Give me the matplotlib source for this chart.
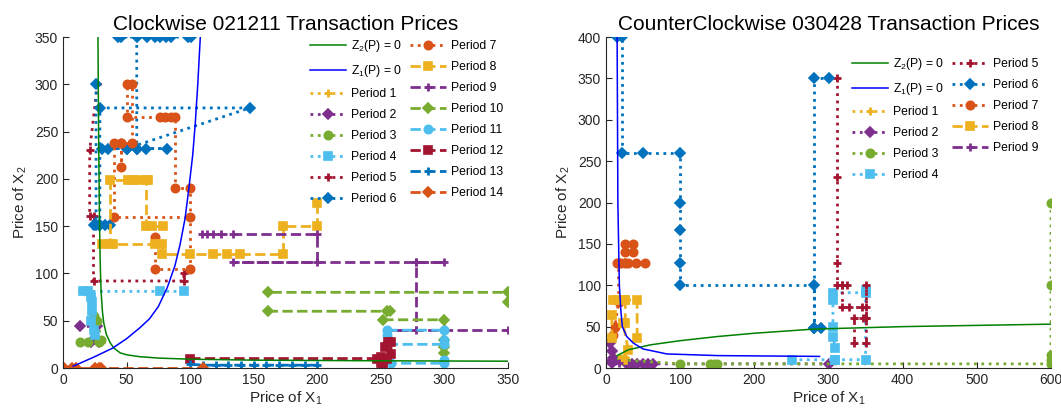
import numpy as np
import matplotlib
matplotlib.use("Agg")
import matplotlib.pyplot as plt

plt.rcParams['font.family'] = ['Liberation Sans', 'DejaVu Sans']
plt.rcParams['mathtext.fontset'] = 'custom'
plt.rcParams['mathtext.rm'] = 'Liberation Sans'
plt.rcParams['mathtext.it'] = 'Liberation Sans:italic'
plt.rcParams['mathtext.default'] = 'regular'

nan = np.nan

# ---------------- Left chart (Clockwise 021211) ----------------
L_z2_x = [27.5, 28, 28.5, 29, 29.5, 30, 31, 32, 34, 37, 40, 45, 50, 60, 75, 100, 150, 250, 350]
L_z2_y = [350, 250, 180, 130, 100, 80, 60, 48, 36, 27, 21, 16, 14, 12, 10.5, 9.3, 8.3, 7.6, 7.2]
L_z1_x = [8, 15, 25, 39, 50, 60, 68, 75, 82, 88, 92, 96, 99, 102, 104, 106, 108]
L_z1_y = [2, 6, 12, 21, 31, 42, 52, 65, 85, 108, 130, 158, 190, 225, 258, 300, 350]

L_p1_x = [24, 28, 30, 28]
L_p1_y = [30, 28, 28, 30]
L_p2_x = [13, 27, 27, 22, 28]
L_p2_y = [44, 44, 30, 28, 27]
L_p3_x = [13, 20, 28, 30, 27, 24]
L_p3_y = [28, 28, 28, 30, 50, 55]
L_p4_x = [95, 76, 16, 20, 22, 23, 23, 22, 24, 25]
L_p4_y = [81, 81, 81, 81, 75, 70, 60, 50, 40, 35]
L_p5_x = [27, 21, 21, 24, 24, 95, 95]
L_p5_y = [300, 230, 161, 161, 92, 92, 100]
L_p6_x = [26, 26, 24, 28, 33, 37, 29, 29, 147, 50, 31, 35, 50, 58, 65, 82, 58, 58, 43, 46, 66, 72, 76, 81, 85, 98, 101]
L_p6_y = [300, 151, 151, 151, 151, 151, 151, 275, 275, 232, 232, 232, 232, 232, 232, 232, 232, 350, 350, 350, 350, 350, 350, 350, 350, 350, 350]
L_p7_x = [72, 72, 100, 100, 88, 88, 85, 80, 76, 50, 50, 54, 54, 46, 46, 46, 40, 40, 100]
L_p7_y = [139, 105, 105, 190, 190, 265, 265, 265, 265, 265, 300, 300, 238, 238, 213, 238, 238, 160, 160]
L_p8_x = [200, 200, 173, 173, 139, 129, 118, 100, 78, 78, 72, 39, 31, 37, 37, 51, 55, 60, 67, 65, 65, 70, 79]
L_p8_y = [175, 150, 150, 121, 121, 121, 121, 121, 121, 131, 131, 131, 131, 131, 199, 199, 199, 199, 199, 199, 150, 150, 150]
L_p9_x = [109, 113, 118, 124, 134, 200, 200, 134, 278, 300, 278, 278, 255, 350]
L_p9_y = [142, 142, 142, 142, 142, 142, 112, 112, 112, 112, 112, 40, 40, 40]
L_p10_x = [350, 350, 161, nan, 161, 255, 257, 252, 300, 300, 300, 300]
L_p10_y = [70, 80, 80, nan, 60, 60, 60, 51, 51, 30, 22, 16]
L_p11_x = [255, 300, 300, 300, 255, 255, 258, 300, 300]
L_p11_y = [40, 40, 30, 25, 25, 35, 5, 5, 8]
L_p12_x = [100, 247, 250, 250, 253, 256, 258, 258, 255, 252]
L_p12_y = [10, 10, 5, 12, 22, 28, 28, 15, 10, 3]
L_p13_x = [100, 110, 120, 130, 140, 150, 160, 170, 180, 190, 200]
L_p13_y = [4, 3, 3, 3, 3, 3, 3, 3, 3, 3, 3]
L_p14_x = [1, 7, 10, 25, 28, 30, 110]
L_p14_y = [0, 0, 0, 0, 0, 0, 0]

# ---------------- Right chart (CounterClockwise 030428) ----------------
R_z2_x = [15, 30, 60, 100, 150, 200, 280, 400, 600]
R_z2_y = [15, 22, 28, 33, 38, 42, 47, 50, 53]
R_z1_x = [15, 16, 18, 20, 22, 28, 37, 50, 82, 150, 288]
R_z1_y = [400, 200, 100, 70, 50, 38, 30, 23, 17, 15, 14]

R_p1_x = [10, 20, 30]
R_p1_y = [15, 12, 10]
R_p2_x = [5, 8, 10, 8, 28, 35, 42, 50, 57, 63, 300]
R_p2_y = [30, 20, 12, 6, 5, 5, 5, 5, 5, 5, 5]
R_p3_x = [20, 100, 140, 145, 150, 600, 600, 600, 600, 600]
R_p3_y = [10, 5, 5, 5, 5, 5, 10, 16, 100, 200]
R_p4_x = [251, 309, 309, 306, 306, 306, 306, 350, 350, 350, 309]
R_p4_y = [10, 10, 24, 38, 50, 82, 91, 91, 94, 10, 10]
R_p5_x = [311, 311, 311, 311, 318, 325, 318, 318, 327, 345, 350, 350, 350, 346, 334, 334, 350, 350]
R_p5_y = [350, 231, 127, 100, 100, 100, 100, 74, 74, 74, 74, 100, 60, 60, 60, 30, 30, 60]
R_p6_x = [15, 22, 22, 50, 100, 100, 100, 100, 100, 280, 280, 290, 280, 280, 300]
R_p6_y = [400, 400, 260, 260, 260, 200, 167, 127, 100, 100, 48, 48, 48, 350, 350]
R_p7_x = [26, 36, 36, 26, 26, 15, 20, 30, 40, 53, 17, 17, 12, 10]
R_p7_y = [150, 150, 140, 140, 127, 127, 127, 127, 127, 127, 127, 80, 50, 40]
R_p8_x = [42, 42, 26, 15, 9, 26, 26, 23, 30, 23, nan, 8, 8]
R_p8_y = [36, 82, 82, 82, 82, 82, 54, 54, 22, 10, nan, 64, 36]
R_p9_x = [5, 12, 18]
R_p9_y = [10, 8, 6]

# ---------------- styles ----------------
C = ['#EDB120', '#7E2F8E', '#77AC30', '#4DBEEE', '#A2142F', '#0072BD', '#D95319']
MK = ['+', 'D', 'o', 's']
MS = {'+': 6, 'D': 5.2, 'o': 6, 's': 5.6}

def style(i):
    col = C[(i - 1) % 7]
    mk = MK[(i - 1) % 4]
    ls = ':' if i <= 7 else '--'
    return dict(color=col, marker=mk, linestyle=ls, linewidth=2, markersize=MS[mk],
                markeredgewidth=2 if mk == '+' else 1.2, markerfacecolor=col)

fig = plt.figure(figsize=(10.61, 4.12), dpi=100)
axL = fig.add_axes([63/1061, 1-368/412, 445/1061, 331/412])
axR = fig.add_axes([606/1061, 1-368/412, 445/1061, 331/412])

left_periods = [(L_p1_x, L_p1_y), (L_p2_x, L_p2_y), (L_p3_x, L_p3_y), (L_p4_x, L_p4_y),
                (L_p5_x, L_p5_y), (L_p6_x, L_p6_y), (L_p7_x, L_p7_y), (L_p8_x, L_p8_y),
                (L_p9_x, L_p9_y), (L_p10_x, L_p10_y), (L_p11_x, L_p11_y), (L_p12_x, L_p12_y),
                (L_p13_x, L_p13_y), (L_p14_x, L_p14_y)]
right_periods = [(R_p1_x, R_p1_y), (R_p2_x, R_p2_y), (R_p3_x, R_p3_y), (R_p4_x, R_p4_y),
                 (R_p5_x, R_p5_y), (R_p6_x, R_p6_y), (R_p7_x, R_p7_y), (R_p8_x, R_p8_y),
                 (R_p9_x, R_p9_y)]

def draw(ax, z2x, z2y, z1x, z1y, periods):
    ax.plot(z2x, z2y, color='#008000', lw=1.1, label='Z$_2$(P) = 0', zorder=3)
    ax.plot(z1x, z1y, color='#0000FF', lw=1.1, label='Z$_1$(P) = 0', zorder=3)
    for i, (x, y) in enumerate(periods, start=1):
        ax.plot(x, y, label=f'Period {i}', zorder=2, **style(i))

draw(axL, L_z2_x, L_z2_y, L_z1_x, L_z1_y, left_periods)
draw(axR, R_z2_x, R_z2_y, R_z1_x, R_z1_y, right_periods)

for ax, xmax, ymax, xstep, title in [
        (axL, 350, 350, 50, 'Clockwise 021211 Transaction Prices'),
        (axR, 600, 400, 100, 'CounterClockwise 030428 Transaction Prices')]:
    ax.set_xlim(0, xmax)
    ax.set_ylim(0, ymax)
    ax.set_xticks(np.arange(0, xmax + 1, xstep))
    ax.set_yticks(np.arange(0, ymax + 1, 50))
    ax.spines['top'].set_visible(False)
    ax.spines['right'].set_visible(False)
    ax.tick_params(direction='in', length=4, labelsize=10, colors='#262626')
    ax.set_title(title, fontsize=15, pad=5)
    ax.set_xlabel('Price of X$_1$', fontsize=11, labelpad=2, color='#262626')
    ax.set_ylabel('Price of X$_2$', fontsize=11, labelpad=4, color='#262626')
    for s in ax.spines.values():
        s.set_color('#262626')
    ax.patch.set_alpha(0)

leg_kw = dict(ncol=2, loc='upper right', frameon=False, fontsize=8.7, handlelength=3.0,
              columnspacing=0.65, handletextpad=0.4, labelspacing=0.75,
              borderpad=0, borderaxespad=0)
axL.legend(bbox_to_anchor=(0.989, 0.997), **leg_kw)
axR.legend(bbox_to_anchor=(0.971, 0.943), **leg_kw)

fig.savefig('out.png', dpi=100)
